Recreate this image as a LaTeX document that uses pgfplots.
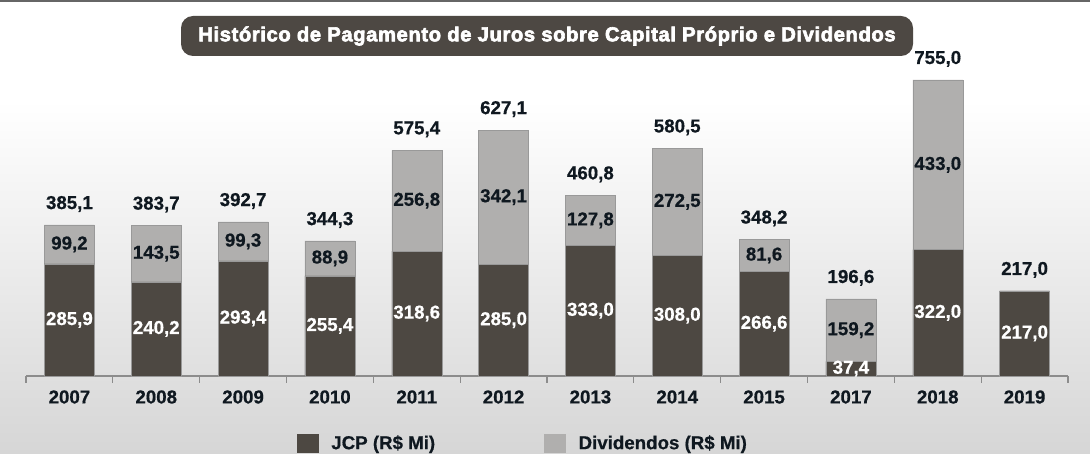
\documentclass[border=0pt]{standalone}
\usepackage{fontspec}
\setmainfont[BoldFeatures={FakeBold=0.6}]{Liberation Sans}
\newfontfamily\titlefont[BoldFeatures={FakeBold=3, LetterSpace=3}]{Liberation Sans}
\usepackage{pgfplots}
\pgfplotsset{compat=1.18}
\pgfplotsset{every non boxed x axis/.append style={x axis line style=-}}
\definecolor{jcp}{HTML}{4D4842}
\definecolor{div}{HTML}{B0AFAE}
\definecolor{lbl}{HTML}{0F1820}
\definecolor{titlebg}{HTML}{4D4843}
\definecolor{axgray}{HTML}{8C8C8C}
\definecolor{bgbot}{HTML}{D6D6D6}
\newcommand{\lf}{\fontsize{18.7}{20}\selectfont\bfseries}
\begin{document}
\begin{tikzpicture}
\useasboundingbox (0,0) rectangle (1090pt,454pt);
\fill[white] (0,0) rectangle (1090pt,454pt);
\shade[top color=white, bottom color=bgbot] (0,0) rectangle (1090pt,354pt);
\fill[black!60] (0,451.5pt) rectangle (1090pt,454pt);
\begin{axis}[
  at={(26pt,78pt)}, anchor=south west,
  scale only axis, width=1042pt, height=300pt,
  xmin=-0.5, xmax=11.5, ymin=0, ymax=765,
  clip=false,
  axis x line*=bottom, axis y line=none,
  x axis line style={-, draw=axgray, line width=1.5pt},
  xtick={0,...,11},
  xticklabels={2007,2008,2009,2010,2011,2012,2013,2014,2015,2017,2018,2019},
  major tick length=0pt,
  minor xtick={-0.5,0.5,...,11.5},
  minor tick length=7pt,
  xtick align=outside,
  minor tick style={draw=axgray, line width=1.2pt},
  xticklabel style={font=\lf, text=lbl, anchor=center, yshift=-21pt},
  title={Histórico de Pagamento de Juros sobre Capital Próprio e Dividendos},
  title style={at={(0.5,1)}, anchor=center, yshift=34pt, fill=titlebg, text=white,
    rounded corners=12pt, minimum width=732pt, minimum height=40pt,
    font=\titlefont\fontsize{20.2}{22}\selectfont\bfseries},
  legend style={at={(0.2598,-0.2233)}, anchor=west, draw=none, fill=none,
    inner sep=0pt, font=\lf, text=lbl,
    /tikz/every odd column/.append style={column sep=11pt},
    /tikz/every even column/.append style={column sep=107pt}},
  legend columns=2,
  legend cell align=left,
]
\addlegendimage{legend image code/.code={\fill[jcp] (0pt,-9pt) rectangle (21pt,9pt);}}
\addlegendentry{JCP (R\$ Mi)}
\addlegendimage{legend image code/.code={\fill[div] (0pt,-9pt) rectangle (21pt,9pt);}}
\addlegendentry{Dividendos (R\$ Mi)}

% totals (JCP + dividends), drawn in grey; JCP drawn over them
\addplot[forget plot, ybar, bar width=50pt, bar shift=0pt, fill=div, draw=black!40, line width=0.5pt] coordinates {
(0,385.1) (1,383.7) (2,392.7) (3,344.3) (4,575.4) (5,627.1)
(6,460.8) (7,580.5) (8,348.2) (9,196.6) (10,755.0) (11,217.0)};
\addplot[forget plot, ybar, bar width=50pt, bar shift=0pt, fill=jcp, draw=black!40, line width=0.5pt] coordinates {
(0,285.9) (1,240.2) (2,293.4) (3,255.4) (4,318.6) (5,285.0)
(6,333.0) (7,308.0) (8,266.6) (9,37.4) (10,322.0) (11,217.0)};

% JCP labels
\addplot[forget plot, draw=none, no markers, nodes near coords, point meta=explicit symbolic,
  every node near coord/.append style={anchor=center, text=white, font=\lf}] table[meta=l] {
x y l
0 142.95 285,9
1 120.1 240,2
2 146.7 293,4
3 127.7 255,4
4 159.3 318,6
5 142.5 285,0
6 166.5 333,0
7 154.0 308,0
8 133.3 266,6
9 18.7 37,4
10 161.0 322,0
11 108.5 217,0
};
% dividend labels
\addplot[forget plot, draw=none, no markers, nodes near coords, point meta=explicit symbolic,
  every node near coord/.append style={anchor=center, text=lbl, font=\lf}] table[meta=l] {
x y l
0 335.5 99,2
1 311.95 143,5
2 343.05 99,3
3 299.85 88,9
4 447.0 256,8
5 456.05 342,1
6 396.9 127,8
7 444.25 272,5
8 307.4 81,6
9 117.0 159,2
10 538.5 433,0
};
% totals
\addplot[forget plot, draw=none, no markers, nodes near coords, point meta=explicit symbolic,
  every node near coord/.append style={anchor=center, yshift=21pt, text=lbl, font=\lf}] table[meta=l] {
x y l
0 385.1 385,1
1 383.7 383,7
2 392.7 392,7
3 344.3 344,3
4 575.4 575,4
5 627.1 627,1
6 460.8 460,8
7 580.5 580,5
8 348.2 348,2
9 196.6 196,6
10 755.0 755,0
11 217.0 217,0
};
\end{axis}
\end{tikzpicture}
\end{document}
